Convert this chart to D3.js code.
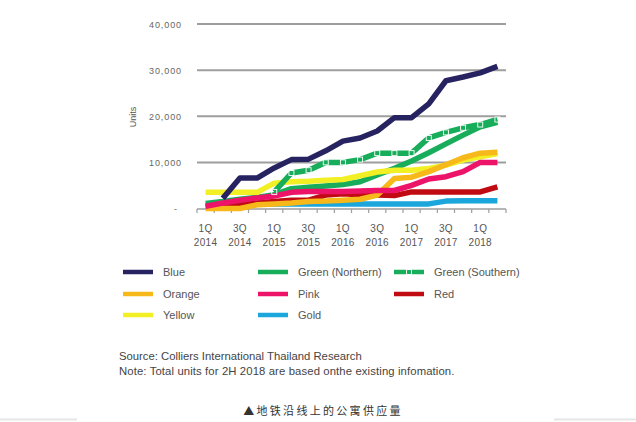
<!DOCTYPE html>
<html>
<head>
<meta charset="utf-8">
<script src="https://cdn.jsdelivr.net/npm/d3@7"></script>
<style>
  html, body { margin: 0; padding: 0; background: #fff; }
  svg { display: block; font-family: "Liberation Sans", Arial, sans-serif; }
</style>
</head>
<body>
<svg id="chart" width="636" height="422"></svg>
<script>
// ---------- data ----------
const quarters = ["1Q 2014","2Q 2014","3Q 2014","4Q 2014","1Q 2015","2Q 2015","3Q 2015","4Q 2015",
                  "1Q 2016","2Q 2016","3Q 2016","4Q 2016","1Q 2017","2Q 2017","3Q 2017","4Q 2017",
                  "1Q 2018","2Q 2018"];
const tickLabelQuarters = ["1Q 2014","3Q 2014","1Q 2015","3Q 2015","1Q 2016","3Q 2016","1Q 2017","3Q 2017","1Q 2018"];
const yTicks = [0, 10000, 20000, 30000, 40000];

const blue      = [null, 2200, 6600, 6600, 8800, 10600, 10700, 12500, 14600, 15300, 16800, 19700, 19700, 22700, 27700, 28500, 29400, 30800];
const greenNorth= [1100, 1500, 2000, 2400, 3000, 4300, 4600, 4900, 5200, 5800, 7300, 8700, 10300, 12100, 14000, 15900, 17700, 18700];
const greenSouth= [null, null, null, null, 3600, 7700, 8300, 10000, 10000, 10600, 12000, 12000, 12000, 15300, 16500, 17500, 18200, 19300];
const orange    = [0, 0, 0, 800, 1000, 1200, 1500, 1600, 1800, 2000, 2900, 6500, 6800, 8000, 9500, 11000, 12000, 12200];
const pink      = [500, 1200, 1800, 2300, 2700, 3500, 3700, 3700, 3700, 3800, 3900, 3900, 5000, 6400, 6900, 8000, 10000, 10000];
const red       = [300, 500, 800, 1200, 1500, 1800, 1800, 2900, 3200, 3000, 2900, 2800, 3600, 3600, 3600, 3600, 3600, 4700];
const yellow    = [3500, 3500, 3500, 3500, 5500, 5800, 5900, 6100, 6300, 7100, 7900, 8300, 8300, 8700, 9400, 10500, 11200, 11900];
const gold      = [null, 200, 700, 900, 1000, 1000, 1000, 1000, 1000, 1000, 1000, 1000, 1000, 1000, 1600, 1700, 1700, 1700];

const seriesNames  = ["Blue","Green (Northern)","Green (Southern)","Orange","Pink","Red","Yellow","Gold"];
const seriesColors = ["#272360","#18ad5b","#18ad5b","#f7b81a","#ec1369","#c10b12","#f2f024","#1ba6dc"];
const seriesValues = [blue, greenNorth, greenSouth, orange, pink, red, yellow, gold];
const drawOrder    = ["Gold","Red","Green (Northern)","Yellow","Orange","Pink","Green (Southern)","Blue"];

// legend layout in reading order
const legendOrder = ["Blue","Green (Northern)","Green (Southern)","Orange","Pink","Red","Yellow","Gold"];

// ---------- chart ----------
const svg = d3.select("#chart");
const x = d3.scaleBand().domain(quarters).range([197, 506]).padding(0);
const y = d3.scaleLinear().domain([0, 40000]).range([208.5, 24]);
const cx = q => x(q) + x.bandwidth() / 2;

// gridlines + y labels
svg.append("g").selectAll("line").data(yTicks.filter(d => d > 0)).join("line")
  .attr("x1", 197).attr("x2", 506)
  .attr("y1", d => y(d)).attr("y2", d => y(d))
  .attr("stroke", "#9e9e9e").attr("stroke-width", 2);

const fmt = d3.format(",");
svg.append("g").selectAll("text").data(yTicks).join("text")
  .attr("x", d => d === 0 ? 178 : 182)
  .attr("y", d => y(d) + 3.5)
  .attr("text-anchor", "end")
  .attr("font-size", 9).attr("letter-spacing", 0.9)
  .attr("fill", "#666")
  .text(d => d === 0 ? "-" : fmt(d));

// units label
svg.append("text")
  .attr("transform", "translate(136,117) rotate(-90)")
  .attr("text-anchor", "middle")
  .attr("font-size", 9).attr("fill", "#555")
  .text("Units");

// x axis
const xAxisG = svg.append("g");
xAxisG.append("line").attr("x1", 197).attr("x2", 506).attr("y1", 209).attr("y2", 209)
  .attr("stroke", "#9e9e9e").attr("stroke-width", 1.5);
const edges = quarters.map(q => x(q)).concat([x(quarters[quarters.length - 1]) + x.bandwidth()]);
xAxisG.selectAll("line.tk").data(edges).join("line").attr("class", "tk")
  .attr("x1", d => d).attr("x2", d => d).attr("y1", 209).attr("y2", 213)
  .attr("stroke", "#9e9e9e").attr("stroke-width", 1.2);
const xl = xAxisG.selectAll("text").data(tickLabelQuarters).join("text")
  .attr("text-anchor", "middle").attr("font-size", 10).attr("letter-spacing", 0.3)
  .attr("fill", "#555");
xl.append("tspan").attr("x", d => cx(d)).attr("y", 232).text(d => d.split(" ")[0]);
xl.append("tspan").attr("x", d => cx(d)).attr("y", 246).text(d => d.split(" ")[1]);

// lines
const line = d3.line()
  .defined(d => d.v !== null)
  .x(d => cx(d.q)).y(d => y(d.v));

drawOrder.forEach(name => {
  const i = seriesNames.indexOf(name);
  const pts = quarters.map((q, j) => ({ q, v: seriesValues[i][j] }));
  svg.append("path").datum(pts)
    .attr("d", line)
    .attr("fill", "none")
    .attr("stroke", seriesColors[i])
    .attr("stroke-width", 5.5)
    .attr("stroke-linejoin", "round");
  if (name === "Green (Southern)") {
    svg.append("g").selectAll("rect").data(pts.filter(d => d.v !== null)).join("rect")
      .attr("x", d => cx(d.q) - 2.5).attr("y", d => y(d.v) - 2.5)
      .attr("width", 5).attr("height", 5)
      .attr("fill", "none").attr("stroke", "#fff").attr("stroke-width", 0.9);
  }
});

// legend
const legX = [123, 258, 394];
const legY = [272, 294, 315];
const leg = svg.append("g");
legendOrder.forEach((name, k) => {
  const r = Math.floor(k / 3), c = k % 3;
  const i = seriesNames.indexOf(name);
  const g = leg.append("g").attr("transform", `translate(${legX[c]},${legY[r]})`);
  g.append("line").attr("x1", 0).attr("x2", 30).attr("y1", 0).attr("y2", 0)
    .attr("stroke", seriesColors[i]).attr("stroke-width", 4.5);
  if (name === "Green (Southern)") {
    g.append("rect").attr("x", 12.5).attr("y", -2.5).attr("width", 5).attr("height", 5)
      .attr("fill", "none").attr("stroke", "#fff").attr("stroke-width", 0.9);
  }
  g.append("text").attr("x", 40).attr("y", 4).attr("font-size", 11).attr("fill", "#555")
    .text(name);
});

// source notes
svg.append("text").attr("x", 119).attr("y", 359.5).attr("font-size", 11.3).attr("fill", "#444")
  .text("Source: Colliers International Thailand Research");
svg.append("text").attr("x", 119).attr("y", 374.5).attr("font-size", 11.3).attr("letter-spacing", 0.12).attr("fill", "#444")
  .text("Note: Total units for 2H 2018 are based onthe existing infomation.");

// caption
svg.append("text").attr("x", 323).attr("y", 415).attr("text-anchor", "middle")
  .attr("font-family", "'Noto Sans CJK SC', sans-serif")
  .attr("font-size", 11).attr("letter-spacing", 2.3).attr("fill", "#333")
  .text("▲地铁沿线上的公寓供应量");

// faint separators at bottom
svg.append("line").attr("x1", 0).attr("x2", 77).attr("y1", 419.5).attr("y2", 419.5)
  .attr("stroke", "#e6e6e6").attr("stroke-width", 2);
svg.append("line").attr("x1", 554).attr("x2", 636).attr("y1", 419.5).attr("y2", 419.5)
  .attr("stroke", "#e6e6e6").attr("stroke-width", 2);
</script>
</body>
</html>
